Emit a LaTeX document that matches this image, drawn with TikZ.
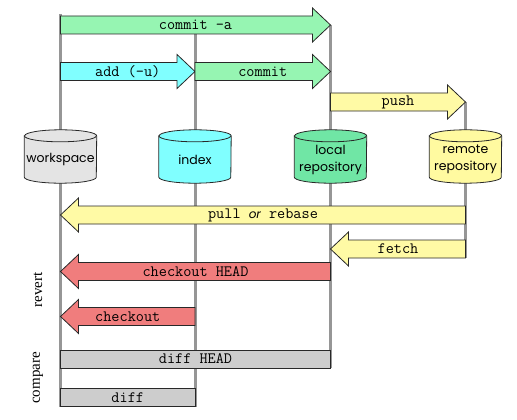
\documentclass[tikz,border=0pt]{standalone}
\usepackage{fontspec}
\setmainfont{Liberation Serif}
\newfontfamily\storefont{Poppins}
\usetikzlibrary{backgrounds,calc}

\definecolor{lifegray}{RGB}{150,150,150}
\definecolor{edgegray}{RGB}{40,40,40}
\definecolor{wsgray}{RGB}{228,228,228}
\definecolor{idxcyan}{RGB}{128,255,255}
\definecolor{locgreen}{RGB}{112,230,165}
\definecolor{remyellow}{RGB}{255,250,160}
\definecolor{cmtgreen}{RGB}{150,245,178}
\definecolor{addcyan}{RGB}{128,255,255}
\definecolor{syncyellow}{RGB}{255,250,165}
\definecolor{revred}{RGB}{240,125,125}
\definecolor{diffgray}{RGB}{205,205,205}

\tikzset{
  lifeline/.style={draw=lifegray,line width=3pt},
  store/.style={minimum width=72pt,minimum height=47pt,inner sep=0pt,align=center,
    font=\storefont\fontsize{12.5}{17}\selectfont},
  band/.style={draw=edgegray,line width=0.8pt},
  cmd/.style={font=\ttfamily\fontsize{15.8}{17}\selectfont,inner sep=0pt},
  side/.style={rotate=90,font=\fontsize{15}{17}\selectfont,inner sep=0pt},
}

% drum round the store node #1
\newcommand\drum[2]{%
  \filldraw[band,fill=#2] (#1.north west) -- ([yshift=6pt]#1.south west)
    arc (180:0:36 and 6) -- (#1.north east) arc (0:-180:36 and 6) -- cycle;
  \draw[band] (#1.north west) arc (180:0:36 and 6);}
% fat arrow from the lifeline of #3 to the lifeline of #4, at height #5
\newcommand\gitarrow[6]{%
  \filldraw[band,fill=#2] let \p1=(#3),\p2=(#4),\n1={\x1},\n2={\x2},
      \n3={\n2>\n1 ? \n2-18 : \n2+18} in
    (\n1,#5-9) -- (\n3,#5-9) -- (\n3,#5-17) -- (\n2,#5) -- (\n3,#5+17)
    -- (\n3,#5+9) -- (\n1,#5+9) -- cycle
    ({(\n1+\n2)/2},#5) node[cmd] (#1) {#6};}
% plain bar between two lifelines
\newcommand\gitbar[6]{%
  \filldraw[band,fill=#2] let \p1=(#3),\p2=(#4),\n1={\x1},\n2={\x2} in
    (\n1,#5-9) rectangle (\n2,#5+9)
    ({(\n1+\n2)/2},#5) node[cmd] (#1) {#6};}

\begin{document}
\begin{tikzpicture}[x=1pt,y=-1pt]
  \useasboundingbox (0,0) rectangle (517,420);
  % stores
  \node[store] (ws) at (60.5,159.5) {workspace};
  \node[store] (idx) at (195,159.5) {index};
  \node[store] (loc) at (330.5,159.5) {local\\repository};
  \node[store] (rem) at (465.5,159.5) {remote\\repository};
  \begin{scope}[on background layer]
    % lifelines
    \draw[lifeline] (ws |- 0,14) -- (ws |- 0,407);
    \draw[lifeline] (idx |- 0,25) -- (idx |- 0,407);
    \draw[lifeline] (loc |- 0,25) -- (loc |- 0,368);
    \draw[lifeline] (rem |- 0,102) -- (rem |- 0,258);
    \drum{ws}{wsgray}
    \drum{idx}{idxcyan}
    \drum{loc}{locgreen}
    \drum{rem}{remyellow}
  \end{scope}
  % commands
  \gitarrow{commitall}{cmtgreen}{ws}{loc}{25}{commit -a}
  \gitarrow{add}{addcyan}{ws}{idx}{71.5}{add (-u)}
  \gitarrow{commit}{cmtgreen}{idx}{loc}{71.5}{commit}
  \gitarrow{push}{syncyellow}{loc}{rem}{102}{push}
  \gitarrow{pull}{syncyellow}{rem}{ws}{215}{pull {\storefont\itshape\fontsize{12}{14}\selectfont or} rebase}
  \gitarrow{fetch}{syncyellow}{rem}{loc}{249}{fetch}
  \gitarrow{checkouthead}{revred}{loc}{ws}{271.5}{checkout HEAD}
  \gitarrow{checkout}{revred}{idx}{ws}{316.5}{checkout}
  \gitbar{diffhead}{diffgray}{ws}{loc}{359}{diff HEAD}
  \gitbar{diff}{diffgray}{ws}{idx}{397.5}{diff}
  \node[side] (revert) at (38,290) {revert};
  \node[side] (compare) at (38,378) {compare};
\end{tikzpicture}
\end{document}
